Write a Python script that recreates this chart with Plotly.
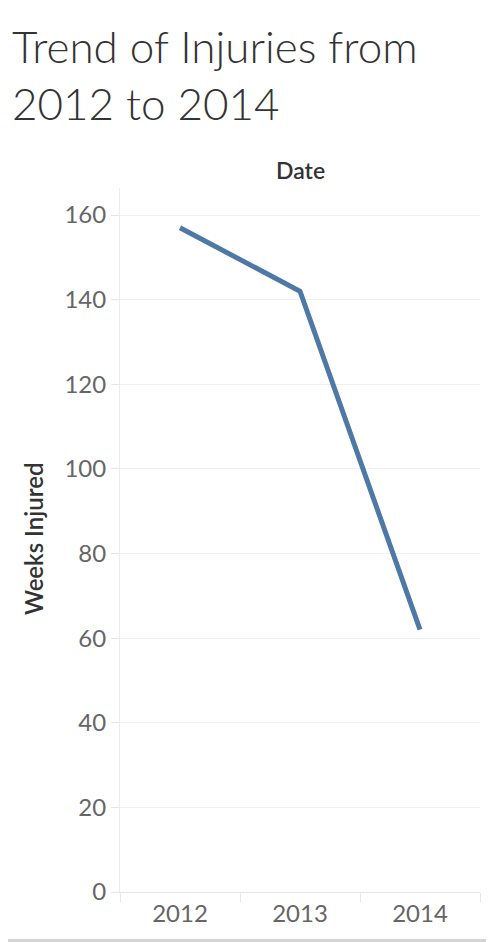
import plotly.graph_objects as go

# данные
years = ['2012', '2013', '2014']
weeks_injured = [157, 142, 62]
y_ticks = [0, 20, 40, 60, 80, 100, 120, 140, 160]

# страница смещена на 8px (отступ body), поэтому фигура чуть меньше окна
W, H = 486, 934
L, R, T, B = 112, 14, 180, 50
PW, PH = W - L - R, H - T - B

FONT = 'Lato, Open Sans, sans-serif'

fig = go.Figure()
fig.add_trace(go.Scatter(x=years, y=weeks_injured, mode='lines',
                         line=dict(color='#4e79a7', width=5),
                         showlegend=False))

fig.update_layout(
    width=W,
    height=H,
    margin=dict(l=L, r=R, t=T, b=B),
    plot_bgcolor='white',
    paper_bgcolor='white',
    font=dict(family=FONT, color='#666666'),
    xaxis=dict(
        type='category',
        range=[-0.5, 2.5],
        showgrid=False,
        showline=True,
        linecolor='#e6e6e6',
        ticks='outside',
        tickson='boundaries',
        ticklen=9,
        tickcolor='#e6e6e6',
        tickfont=dict(size=24, color='#666666'),
        zeroline=False,
    ),
    yaxis=dict(
        range=[0, 166.4],
        tickvals=y_ticks,
        showgrid=True,
        gridcolor='#efefef',
        gridwidth=1,
        showline=True,
        linecolor='#ededed',
        ticks='outside',
        ticklen=8,
        tickcolor='#e6e6e6',
        tickfont=dict(size=24, color='#666666'),
        zeroline=False,
    ),
    annotations=[
        dict(text='Trend of Injuries from<br>2012 to 2014', align='left',
             x=(2 - L) / PW, y=1 + (T - 10) / PH, xref='paper', yref='paper',
             xanchor='left', yanchor='top', showarrow=False,
             font=dict(size=44, color='#333333', family=FONT, weight=300)),
        dict(text='Date', x=0.5, y=1 + (T - 162) / PH, xref='paper', yref='paper',
             xanchor='center', yanchor='middle', showarrow=False,
             font=dict(size=23, color='#333333', family=FONT, weight=600)),
        dict(text='Weeks Injured', x=(25 - L) / PW, y=(H - B - 531) / PH,
             xref='paper', yref='paper',
             xanchor='center', yanchor='middle', showarrow=False, textangle=-90,
             font=dict(size=24, color='#333333', family=FONT, weight=600)),
    ],
    shapes=[
        dict(type='rect', xref='paper', yref='paper',
             x0=-L / PW, x1=1 + R / PW, y0=-B / PH, y1=-(B - 3) / PH,
             fillcolor='#d4d4d4', line=dict(width=0), layer='below'),
    ],
)

fig.write_html("out.html")
